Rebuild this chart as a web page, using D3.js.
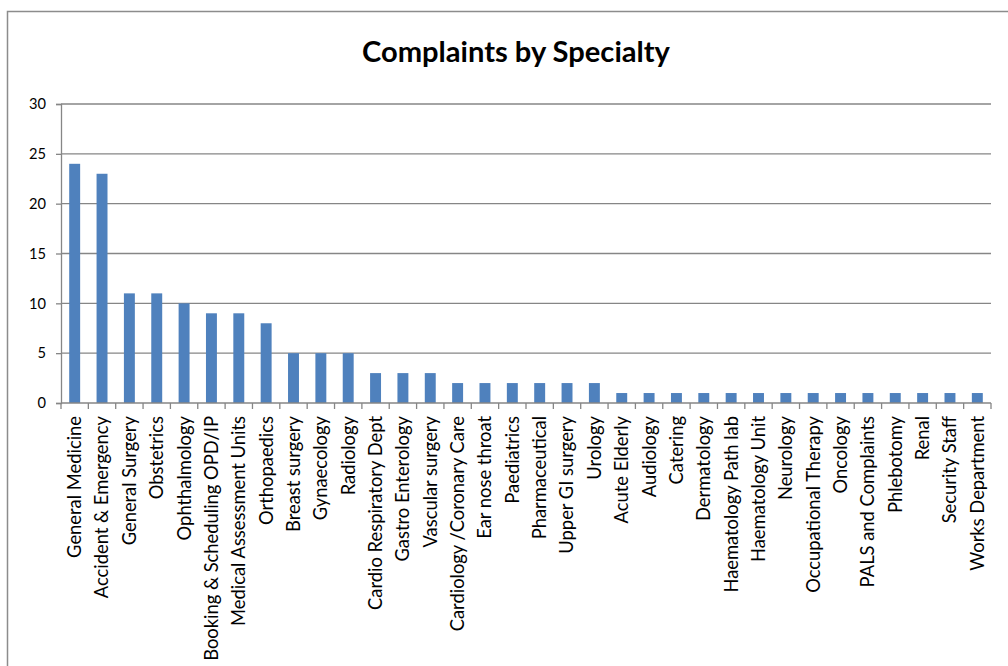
<!DOCTYPE html>
<html>
<head>
<meta charset="utf-8">
<script src="https://cdn.jsdelivr.net/npm/d3@7"></script>
<style>
  html, body { margin: 0; padding: 0; background: #fff; }
  svg { display: block; }
  text { font-family: Lato, "Open Sans", sans-serif; fill: #000; }
</style>
</head>
<body>
<svg id="chart" width="1008" height="666"></svg>
<script>
// Complaints per specialty
const specialties = [
  "General Medicine", "Accident & Emergency", "General Surgery", "Obstetrics",
  "Ophthalmology", "Booking & Scheduling OPD/IP", "Medical Assessment Units",
  "Orthopaedics", "Breast surgery", "Gynaecology", "Radiology",
  "Cardio Respiratory Dept", "Gastro Enterology", "Vascular surgery",
  "Cardiology /Coronary Care", "Ear nose throat", "Paediatrics",
  "Pharmaceutical", "Upper GI surgery", "Urology", "Acute Elderly",
  "Audiology", "Catering", "Dermatology", "Haematology Path lab",
  "Haematology Unit", "Neurology", "Occupational Therapy", "Oncology",
  "PALS and Complaints", "Phlebotomy", "Renal", "Security Staff",
  "Works Department"
];
const complaints = [
  24, 23, 11, 11, 10, 9, 9, 8, 5, 5, 5, 3, 3, 3, 2, 2, 2, 2, 2, 2,
  1, 1, 1, 1, 1, 1, 1, 1, 1, 1, 1, 1, 1, 1
];
const yTicks = [0, 5, 10, 15, 20, 25, 30];
const chartTitle = "Complaints by Specialty";

const svg = d3.select("#chart");
const plot = { left: 61, right: 991, top: 104, bottom: 403 };
const gridColor = "#868686";

// Size a font so that a sample string spans the wanted width
function fitSize(sample, width, weight) {
  const t = svg.append("text").attr("font-size", 100)
    .attr("font-weight", weight || "normal").text(sample);
  const w = t.node().getComputedTextLength();
  t.remove();
  return 100 * width / w;
}
const labelSize = fitSize("Cardio Respiratory Dept", 194);
const tickSize = fitSize("30", 17);
const titleSize = fitSize(chartTitle, 308, "bold");

// chart frame
svg.append("rect")
  .attr("x", 7.5).attr("y", 11.5)
  .attr("width", 1100).attr("height", 800)
  .attr("fill", "none").attr("stroke", "#8c8c8c").attr("stroke-width", 1.5);

const x = d3.scaleBand()
  .domain(specialties)
  .range([plot.left, plot.right])
  .paddingInner(0.6).paddingOuter(0.3);

const y = d3.scaleLinear().domain([0, 30]).range([plot.bottom, plot.top]);

// horizontal gridlines
svg.append("g")
  .selectAll("line")
  .data(yTicks.filter(v => v > 0))
  .join("line")
  .attr("x1", plot.left).attr("x2", plot.right)
  .attr("y1", d => y(d)).attr("y2", d => y(d))
  .attr("stroke", gridColor).attr("stroke-width", 1.3);

// bars
svg.append("g")
  .selectAll("rect")
  .data(specialties.map((s, i) => ({ s, v: complaints[i] })))
  .join("rect")
  .attr("x", d => x(d.s))
  .attr("width", x.bandwidth())
  .attr("y", d => y(d.v))
  .attr("height", d => y(0) - y(d.v))
  .attr("fill", "#4f81bd");

// y axis
const yAxis = svg.append("g")
  .attr("transform", `translate(${plot.left},0)`)
  .call(d3.axisLeft(y).tickValues(yTicks).tickSize(5).tickPadding(10));
yAxis.select(".domain").attr("stroke", gridColor).attr("stroke-width", 1.3);
yAxis.selectAll(".tick line").attr("stroke", gridColor).attr("stroke-width", 1.3);
yAxis.selectAll(".tick text")
  .attr("font-size", tickSize).attr("font-family", "Lato, 'Open Sans', sans-serif")
  .attr("fill", "#000");

// x axis: baseline, boundary ticks and rotated labels
const step = x.step();
const xg = svg.append("g");
xg.append("line")
  .attr("x1", plot.left).attr("x2", plot.right)
  .attr("y1", plot.bottom).attr("y2", plot.bottom)
  .attr("stroke", gridColor).attr("stroke-width", 1.3);
xg.selectAll("line.tick")
  .data(d3.range(specialties.length + 1))
  .join("line")
  .attr("class", "tick")
  .attr("x1", i => plot.left + i * step).attr("x2", i => plot.left + i * step)
  .attr("y1", plot.bottom).attr("y2", plot.bottom + 6)
  .attr("stroke", gridColor).attr("stroke-width", 1.3);
xg.selectAll("text")
  .data(specialties)
  .join("text")
  .attr("transform", d => `translate(${x(d) + x.bandwidth() / 2},416) rotate(-90)`)
  .attr("text-anchor", "end")
  .attr("dy", "0.35em")
  .attr("font-size", labelSize)
  .text(d => d);

// title
svg.append("text")
  .attr("x", 516).attr("y", 62)
  .attr("text-anchor", "middle")
  .attr("font-weight", "bold")
  .attr("font-size", titleSize)
  .text(chartTitle);
</script>
</body>
</html>
